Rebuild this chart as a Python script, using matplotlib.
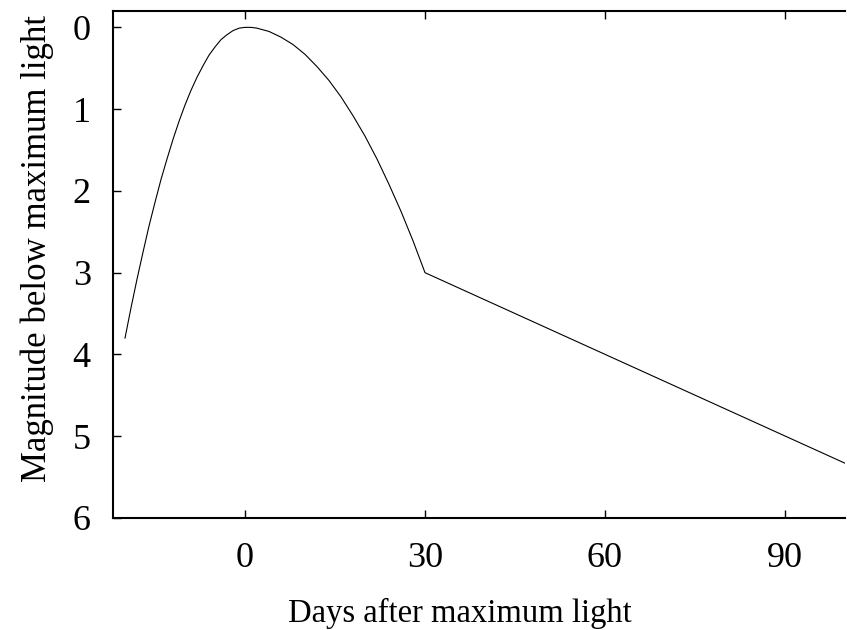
import matplotlib
matplotlib.use("Agg")
import matplotlib.pyplot as plt

plt.rcParams['font.family'] = ['Liberation Serif', 'DejaVu Serif']

# rise to maximum (days, magnitude below max)
rise_days = [-20, -19, -18, -17, -16, -15, -14, -13, -12, -11, -10,
             -9, -8, -7, -6, -5, -4, -3, -2, -1, 0]
rise_mag = [3.80, 3.43, 3.08, 2.75, 2.43, 2.14, 1.86, 1.61, 1.37, 1.15, 0.95,
            0.77, 0.61, 0.47, 0.34, 0.24, 0.15, 0.09, 0.04, 0.01, 0.00]

# early decline after maximum
fall_days = [1, 2, 4, 6, 8, 10, 12, 14, 16, 18, 20, 22, 24, 26, 28, 30]
fall_mag = [0.00, 0.01, 0.05, 0.12, 0.21, 0.33, 0.48, 0.65, 0.85, 1.08,
            1.33, 1.61, 1.92, 2.25, 2.61, 3.00]

# linear tail
tail_days = [30, 100]
tail_mag = [3.00, 5.33]

days = rise_days + fall_days + tail_days[1:]
mag = rise_mag + fall_mag + tail_mag[1:]

fig = plt.figure(figsize=(8.47, 6.30), dpi=100)
ax = fig.add_axes([113 / 847, 112 / 630, 732 / 847, 507 / 630])
ax.plot(days, mag, color='black', lw=0.8)

ax.set_xlim(-22, 100)
ax.set_ylim(6, -0.2)
ax.set_xticks([0, 30, 60, 90])
ax.set_yticks([0, 1, 2, 3, 4, 5, 6])
ax.tick_params(direction='in', length=6, width=1, labelsize=26, top=True)
ax.tick_params(axis='x', pad=17)
ax.tick_params(axis='y', pad=16)
ax.spines['right'].set_visible(False)
for s in ['left', 'top', 'bottom']:
    ax.spines[s].set_linewidth(1.5)

ax.set_xlabel("Days after maximum light", fontsize=23.5)
ax.set_ylabel("Magnitude below maximum light", fontsize=25)
ax.xaxis.set_label_coords(0.474, -0.157)
ax.yaxis.set_label_coords(-0.080, 0.532)

fig.savefig("out.png", dpi=100)
